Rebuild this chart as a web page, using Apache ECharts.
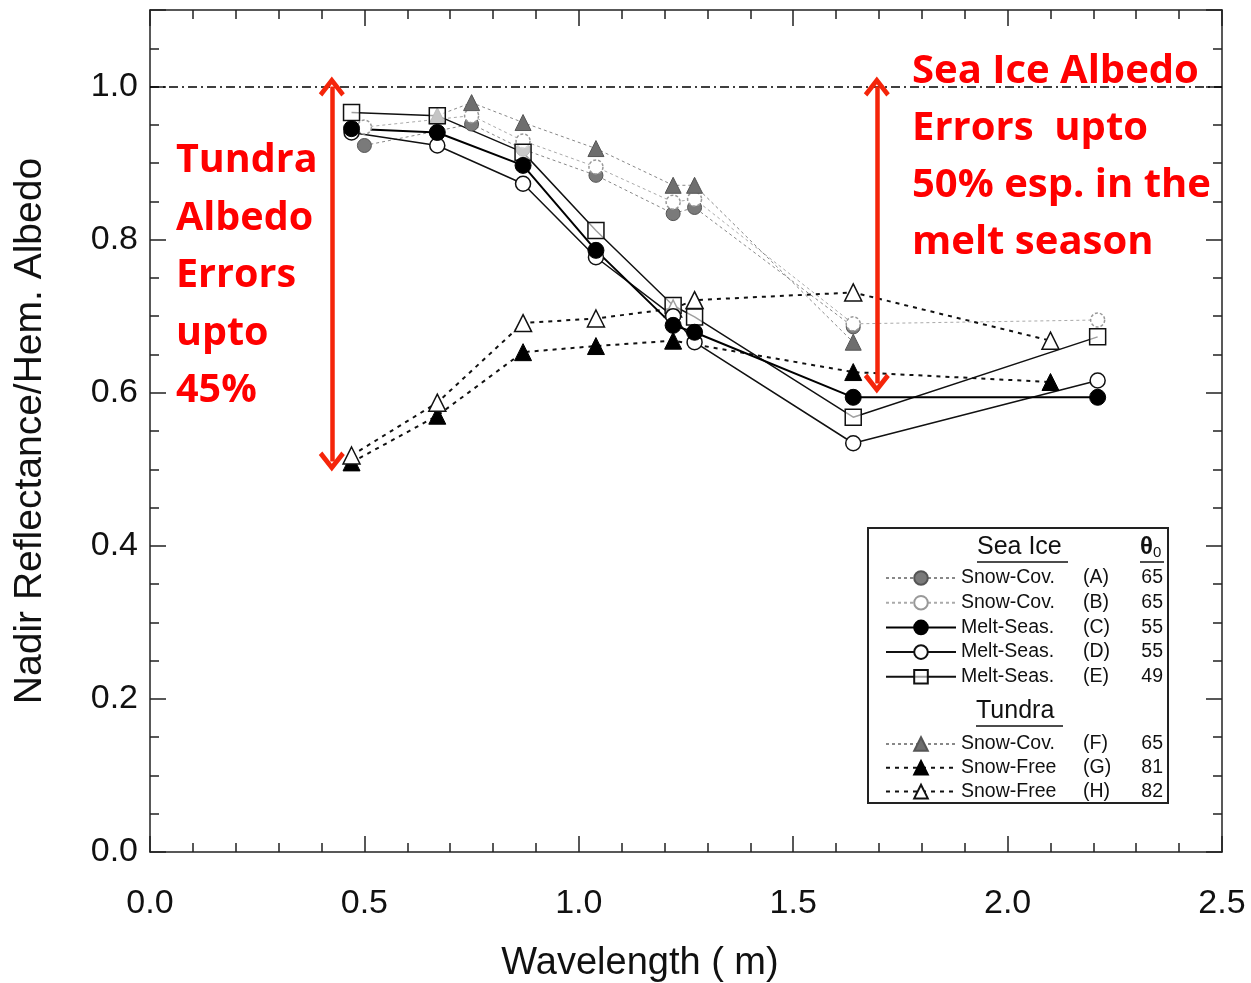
<!DOCTYPE html>
<html>
<head>
<meta charset="utf-8">
<script src="https://cdn.jsdelivr.net/npm/echarts@6/dist/echarts.min.js"></script>
<style>
  html, body { margin: 0; padding: 0; background: #fff; }
  #chart { width: 1251px; height: 983px; }
</style>
</head>
<body>
<div id="chart"></div>
<script>
// wavelength (um) / albedo pairs
const waveA = [0.50, 0.75, 0.87, 1.04, 1.22, 1.27, 1.64];
const albA  = [0.923, 0.951, 0.918, 0.884, 0.834, 0.842, 0.686];
const waveB = [0.50, 0.75, 0.87, 1.04, 1.22, 1.27, 1.64, 2.21];
const albB  = [0.947, 0.962, 0.929, 0.895, 0.849, 0.853, 0.690, 0.695];
const waveCDE = [0.47, 0.67, 0.87, 1.04, 1.22, 1.27, 1.64, 2.21];
const albC  = [0.945, 0.940, 0.897, 0.786, 0.688, 0.679, 0.594, 0.594];
const albD  = [0.940, 0.923, 0.873, 0.777, 0.700, 0.666, 0.534, 0.616];
const albE  = [0.966, 0.962, 0.914, 0.812, 0.714, 0.699, 0.568, 0.673];
const waveF = [0.67, 0.75, 0.87, 1.04, 1.22, 1.27, 1.64];
const albF  = [0.962, 0.979, 0.953, 0.919, 0.871, 0.871, 0.666];
const waveG = [0.47, 0.67, 0.87, 1.04, 1.22, 1.64, 2.10];
const albG  = [0.509, 0.570, 0.653, 0.661, 0.668, 0.627, 0.614];
const waveH = [0.47, 0.67, 0.87, 1.04, 1.22, 1.27, 1.64, 2.10];
const albH  = [0.518, 0.587, 0.691, 0.697, 0.710, 0.721, 0.731, 0.668];

const keys = ['A', 'B', 'C', 'D', 'E', 'F', 'G', 'H'];
const surfaceNames = ['Snow-Cov.', 'Snow-Cov.', 'Melt-Seas.', 'Melt-Seas.', 'Melt-Seas.', 'Snow-Cov.', 'Snow-Free', 'Snow-Free'];
const theta0 = [65, 65, 55, 55, 49, 65, 81, 82];

// red error arrows: x position, top and bottom albedo
const arrowX = [0.424, 1.695];
const arrowTop = [1.0, 1.0];
const arrowBottom = [0.51, 0.612];
const refAlbedo = 1.0;

const pairs = (xs, ys) => xs.map((x, i) => [x, ys[i]]);

const fontLib = 'Liberation Sans, Arial, sans-serif';
const axisCol = '#222';

function mk(name, xs, ys, sym, size, item, line) {
  return {
    name: name,
    type: 'line',
    data: pairs(xs, ys),
    symbol: sym,
    symbolSize: size,
    itemStyle: item,
    lineStyle: line,
    z: 3
  };
}

const chevron = 'path://M0,0 L13,15 L9.5,18 L0,7 L-9.5,18 L-13,15 Z';

const chart = echarts.init(document.getElementById('chart'));

const legendFmt = function (name) {
  const i = keys.indexOf(name);
  return '{n|' + surfaceNames[i] + '}{c|(' + name + ')}{v|' + theta0[i] + '}';
};
const legendText = {
  fontFamily: fontLib,
  fontSize: 19.5,
  color: '#111',
  lineHeight: 20,
  rich: {
    n: { width: 122, fontSize: 19.5, fontFamily: fontLib },
    c: { width: 52, fontSize: 19.5, fontFamily: fontLib },
    v: { width: 28, align: 'right', fontSize: 19.5, fontFamily: fontLib }
  }
};

const option = {
  animation: false,
  backgroundColor: '#fff',
  grid: { left: 150, right: 29, top: 10, bottom: 131, containLabel: false, outerBoundsMode: 'none' },
  xAxis: [
    {
      type: 'value', min: 0, max: 2.5, interval: 0.5, position: 'bottom',
      axisLine: { show: true, onZero: false, lineStyle: { color: axisCol, width: 1.5 } },
      axisTick: { inside: true, length: 16, lineStyle: { color: axisCol, width: 1.5 } },
      minorTick: { show: true, splitNumber: 5, length: 9, lineStyle: { color: axisCol, width: 1.5 } },
      splitLine: { show: false },
      axisLabel: { fontSize: 34, fontFamily: fontLib, color: '#111', margin: 35, formatter: v => v.toFixed(1) },
      name: 'Wavelength ( m)', nameLocation: 'middle', nameGap: 93,
      nameTextStyle: { fontSize: 38, fontFamily: fontLib, color: '#111', padding: [0, 92, 0, 0] }
    },
    {
      type: 'value', min: 0, max: 2.5, interval: 0.5, position: 'top',
      axisLine: { show: true, onZero: false, lineStyle: { color: axisCol, width: 1.5 } },
      axisTick: { inside: true, length: 16, lineStyle: { color: axisCol, width: 1.5 } },
      minorTick: { show: true, splitNumber: 5, length: 9, lineStyle: { color: axisCol, width: 1.5 } },
      splitLine: { show: false },
      axisLabel: { show: false }
    }
  ],
  yAxis: [
    {
      type: 'value', min: 0, max: 1.1, interval: 0.2, position: 'left',
      axisLine: { show: true, onZero: false, lineStyle: { color: axisCol, width: 1.5 } },
      axisTick: { inside: true, length: 16, lineStyle: { color: axisCol, width: 1.5 } },
      minorTick: { show: true, splitNumber: 4, length: 9, lineStyle: { color: axisCol, width: 1.5 } },
      splitLine: { show: false },
      axisLabel: { fontSize: 34, fontFamily: fontLib, color: '#111', margin: 12, showMaxLabel: false, formatter: v => v.toFixed(1) },
      name: 'Nadir Reflectance/Hem. Albedo', nameLocation: 'middle', nameGap: 100, nameRotate: 90,
      nameTextStyle: { fontSize: 39, fontFamily: fontLib, color: '#111' }
    },
    {
      type: 'value', min: 0, max: 1.1, interval: 0.2, position: 'right',
      axisLine: { show: true, onZero: false, lineStyle: { color: axisCol, width: 1.5 } },
      axisTick: { inside: true, length: 16, lineStyle: { color: axisCol, width: 1.5 } },
      minorTick: { show: true, splitNumber: 4, length: 9, lineStyle: { color: axisCol, width: 1.5 } },
      splitLine: { show: false },
      axisLabel: { show: false }
    }
  ],
  legend: [
    {
      data: ['A', 'B', 'C', 'D', 'E'],
      orient: 'vertical', left: 880, top: 563,
      itemWidth: 70, itemHeight: 17, itemGap: 4.7,
      formatter: legendFmt, textStyle: legendText,
      selectedMode: false
    },
    {
      data: ['F', 'G', 'H'],
      orient: 'vertical', left: 880, top: 729,
      itemWidth: 70, itemHeight: 17, itemGap: 3.8,
      formatter: legendFmt, textStyle: legendText,
      selectedMode: false
    }
  ],
  series: [
    mk('A', waveA, albA, 'circle', 14,
      { color: '#7a7a7a', borderColor: '#555', borderWidth: 1 },
      { color: '#888', width: 1, type: [3, 3] }),
    mk('B', waveB, albB, 'circle', 14,
      { color: '#fff', borderColor: '#999', borderWidth: 1.5, borderType: [3, 2] },
      { color: '#aaa', width: 1, type: [3, 3] }),
    mk('F', waveF, albF, 'triangle', 16,
      { color: '#6e6e6e', borderColor: '#555', borderWidth: 1 },
      { color: '#888', width: 1, type: [3, 3] }),
    mk('G', waveG, albG, 'triangle', 17,
      { color: '#000', borderColor: '#000', borderWidth: 1 },
      { color: '#111', width: 2, type: [4, 5] }),
    mk('H', waveH, albH, 'triangle', 17,
      { color: '#fff', borderColor: '#111', borderWidth: 1.5 },
      { color: '#111', width: 2, type: [4, 5] }),
    mk('E', waveCDE, albE, 'rect', 16,
      { color: 'rgba(255,255,255,0.6)', borderColor: '#111', borderWidth: 1.5 },
      { color: '#111', width: 1.5 }),
    mk('D', waveCDE, albD, 'circle', 15,
      { color: '#fff', borderColor: '#111', borderWidth: 1.5 },
      { color: '#111', width: 1.5 }),
    mk('C', waveCDE, albC, 'circle', 16,
      { color: '#000', borderColor: '#000', borderWidth: 1 },
      { color: '#000', width: 2 }),
    {
      name: 'annotations',
      type: 'line',
      data: [],
      silent: true,
      markLine: {
        silent: true,
        animation: false,
        z: 10,
        label: { show: false },
        data: [
          [
            { coord: [0, refAlbedo], symbol: 'none', lineStyle: { color: '#000', width: 1.5, type: [9, 4, 2, 4] } },
            { coord: [2.5, refAlbedo], symbol: 'none' }
          ],
          [
            { coord: [arrowX[0], arrowTop[0]], symbol: chevron, symbolSize: [26, 20], lineStyle: { color: '#f5250a', width: 4.5, type: 'solid' } },
            { coord: [arrowX[0], arrowBottom[0]], symbol: chevron, symbolSize: [26, 20] }
          ],
          [
            { coord: [arrowX[1], arrowTop[1]], symbol: chevron, symbolSize: [26, 20], lineStyle: { color: '#f5250a', width: 4.5, type: 'solid' } },
            { coord: [arrowX[1], arrowBottom[1]], symbol: chevron, symbolSize: [26, 20] }
          ]
        ]
      }
    }
  ],
  graphic: [
    {
      type: 'rect', z: 1, silent: true,
      shape: { x: 868, y: 528, width: 300, height: 275 },
      style: { fill: '#fff', stroke: '#222', lineWidth: 2 }
    },
    {
      type: 'text', z: 2, silent: true, x: 977, y: 535,
      style: { text: 'Sea Ice', font: '25px ' + fontLib, fill: '#111' }
    },
    { type: 'line', z: 2, silent: true, shape: { x1: 977, y1: 562, x2: 1068, y2: 562 }, style: { stroke: '#111', lineWidth: 1.5 } },
    {
      type: 'text', z: 2, silent: true, x: 1140, y: 535,
      style: {
        text: '{t|θ}{s|0}', fill: '#111',
        rich: { t: { font: 'bold 24px ' + fontLib }, s: { font: '15px ' + fontLib, padding: [10, 0, 0, 0] } }
      }
    },
    { type: 'line', z: 2, silent: true, shape: { x1: 1140, y1: 562, x2: 1164, y2: 562 }, style: { stroke: '#111', lineWidth: 1.5 } },
    {
      type: 'text', z: 2, silent: true, x: 976, y: 699,
      style: { text: 'Tundra', font: '25px ' + fontLib, fill: '#111' }
    },
    { type: 'line', z: 2, silent: true, shape: { x1: 976, y1: 726, x2: 1063, y2: 726 }, style: { stroke: '#111', lineWidth: 1.5 } },
    {
      type: 'text', z: 20, silent: true, x: 176, y: 132,
      style: {
        text: 'Tundra\nAlbedo\nErrors\nupto\n45%',
        font: 'bold 39.5px "Open Sans", sans-serif', fill: '#f00', lineHeight: 57.5
      }
    },
    {
      type: 'text', z: 20, silent: true, x: 912, y: 43,
      style: {
        text: 'Sea Ice Albedo\nErrors  upto\n50% esp. in the\nmelt season',
        font: 'bold 40px "Open Sans", sans-serif', fill: '#f00', lineHeight: 57
      }
    }
  ]
};

chart.setOption(option);
</script>
</body>
</html>
